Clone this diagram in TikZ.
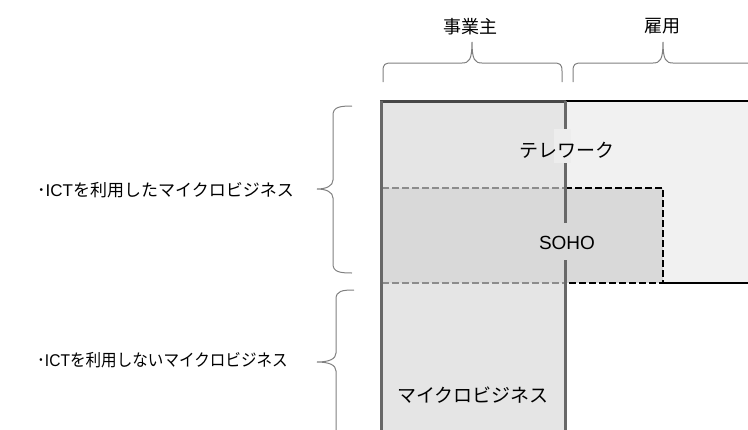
\documentclass[tikz,border=0pt]{standalone}
\usepackage{fontspec}
\usepackage{graphicx}
\setmainfont{Noto Sans CJK JP}
\newfontfamily\latinf{Liberation Sans}
\begin{document}
\begin{tikzpicture}[x=1pt,y=-1pt,
  bracepath/.style={draw=black!50,line width=1pt},
  lbl/.style={text=black,inner sep=0pt,font=\fontsize{17}{17}\selectfont},
  inlbl/.style={text=black,inner sep=0pt,font=\fontsize{19}{19}\selectfont},
  toplbl/.style={text=black,inner sep=0pt,font=\fontsize{18}{18}\selectfont}]
\useasboundingbox (0,0) rectangle (748,429);
\definecolor{telefill}{HTML}{F1F1F1}
\definecolor{colfill}{HTML}{E5E5E5}
\definecolor{sohofill}{HTML}{D9D9D9}
\definecolor{colline}{HTML}{686868}
% telework area
\fill[telefill] (565,101) rectangle (760,283);
\draw[black,line width=2.2pt] (565,101) -- (760,101);
\draw[black,line width=2.2pt] (663,283) -- (760,283);
% business owner column
\fill[colfill] (381,101) rectangle (565,440);
% SOHO
\fill[sohofill] (382,188) rectangle (663,283);
\draw[black!45,line width=1.8pt,dash pattern=on 7pt off 3pt] (382,188) -- (565,188);
\draw[black!45,line width=1.8pt,dash pattern=on 7pt off 3pt] (382,283) -- (565,283);
\draw[black,line width=2pt,dash pattern=on 7pt off 3pt] (565,188) -- (663,188) -- (663,283) -- (565,283);
% column borders
\draw[black!72,line width=3pt] (380,101) -- (566,101);
\draw[colline,line width=3pt] (381,101) -- (381,440);
\draw[colline,line width=3pt] (565,101) -- (565,129);
\draw[colline,line width=3pt] (565,163) -- (565,223);
\draw[colline,line width=3pt] (565,260) -- (565,440);
\fill[black!7] (554,129) rectangle (571,163);
% inner labels
\node[inlbl] (tele) at (567,150) {テレワーク};
\node[inlbl] (soho) at (567,243) {\latinf SOHO};
\node[inlbl] (micro) at (473,395) {マイクロビジネス};
% top labels and braces
\node[toplbl] (owner) at (470,27) {事業主};
\node[toplbl] (employ) at (662,26) {雇用};
\draw[bracepath] (383,82) -- (383,71) .. controls (383,64) and (385,63) .. (392,63) -- (462,63) .. controls (469,63) and (472,60) .. (472,42) .. controls (472,60) and (475,63) .. (482,63) -- (553,63) .. controls (560,63) and (562,64) .. (562,71) -- (562,82);
\draw[bracepath] (573,82) -- (573,71) .. controls (573,64) and (575,63) .. (582,63) -- (653,63) .. controls (660,63) and (663,60) .. (663,42) .. controls (663,60) and (666,63) .. (673,63) -- (760,63);
% left labels and braces
\node[lbl,anchor=west] (ict) at (37,190) {･{\latinf ICT}を利用したマイクロビジネス};
\node[lbl,anchor=west] (noict) at (37,360) {\scalebox{0.916}[1]{･{\latinf ICT}を利用しないマイクロビジネス}};
\draw[bracepath] (352,106) .. controls (340,106) and (333,107) .. (333,115) -- (333,180) .. controls (333,186) and (326,189) .. (317,189) .. controls (326,189) and (333,192) .. (333,198) -- (333,264) .. controls (333,272) and (340,273) .. (352,273);
\draw[bracepath] (354,290) .. controls (342,290) and (336,291) .. (336,299) -- (336,353) .. controls (336,359) and (329,362) .. (317,362) .. controls (329,362) and (336,365) .. (336,371) -- (336,440);
\end{tikzpicture}
\end{document}
